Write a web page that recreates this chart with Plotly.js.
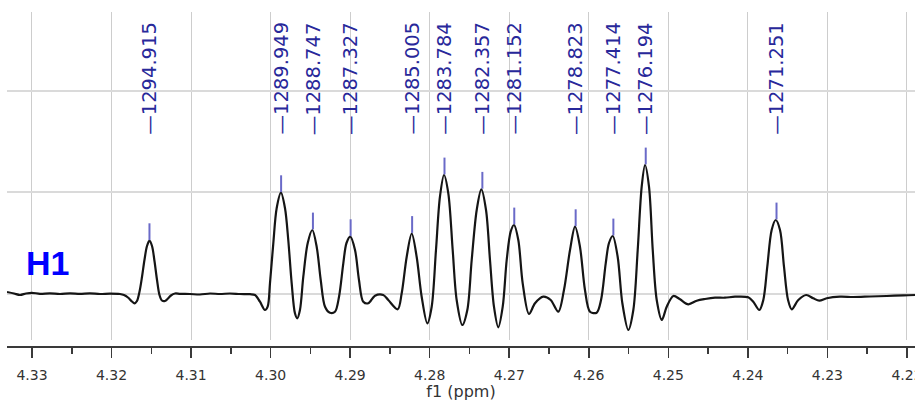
<!DOCTYPE html>
<html><head><meta charset="utf-8">
<script src="https://cdn.plot.ly/plotly-3.0.1.min.js"></script>
<style>html,body{margin:0;padding:0;background:#fff;overflow:hidden;} #chart{width:915px;height:401px;}</style>
</head><body><div id="chart"></div>
<script>
// Spectrum trace (chemical shift in ppm, intensity in arbitrary units)
const ppm = [4.33314,4.33226,4.33151,4.33075,4.33000,4.32899,4.32774,4.32648,4.32522,4.32397,4.32271,4.32145,4.32019,4.31894,
4.31843,4.31793,4.31743,4.31711,4.31680,4.31649,4.31617,4.31586,4.31554,4.31523,4.31491,4.31460,4.31428,4.31397,4.31366,4.31328,
4.31290,4.31253,4.31202,4.31139,4.31014,4.30888,4.30762,4.30637,4.30511,4.30385,4.30259,4.30196,4.30134,4.30071,4.30037,4.30008,
4.29966,4.29924,4.29870,4.29819,4.29778,4.29735,4.29694,4.29665,4.29631,4.29589,4.29534,4.29476,4.29421,4.29370,4.29316,4.29254,
4.29191,4.29140,4.29086,4.29046,4.28998,4.28939,4.28889,4.28835,4.28772,4.28688,4.28584,4.28521,4.28402,4.28352,4.28289,4.28226,
4.28164,4.28101,4.28030,4.27975,4.27921,4.27871,4.27820,4.27766,4.27711,4.27661,4.27590,4.27527,4.27472,4.27409,4.27351,4.27292,
4.27242,4.27192,4.27138,4.27082,4.27032,4.26982,4.26940,4.26886,4.26831,4.26752,4.26676,4.26572,4.26479,4.26383,4.26312,4.26236,
4.26173,4.26111,4.26048,4.25985,4.25901,4.25846,4.25787,4.25746,4.25699,4.25637,4.25578,4.25503,4.25440,4.25385,4.25335,4.25293,
4.25243,4.25196,4.25146,4.25082,4.25020,4.24937,4.24853,4.24749,4.24643,4.24539,4.24413,4.24288,4.24162,4.23995,4.23932,4.23856,
4.23806,4.23756,4.23701,4.23650,4.23596,4.23546,4.23495,4.23449,4.23366,4.23267,4.23178,4.23102,4.23009,4.22842,4.22675,4.22465,
4.22255,4.22045,4.21899];
const intensity = [1.5,0,-1.5,0,0.7,-0.3,0.2,-0.5,0.2,-0.3,0.2,-0.5,-0.1,-0.5,
-1.5,-4,-8,-9.8,-7.5,1.5,16.5,33.5,47.5,52.8,47.5,32.5,13.5,-1.5,-7,-7.5,
-5,-2,0,-0.3,-0.5,-1,0,-0.5,0,-0.5,-0.7,-1.5,-8.2,-16.5,-13.2,10.2,
50.2,85.2,100.8,85.2,53.5,10.2,-19.8,-24.8,-16.5,16.8,50.2,63.5,46.8,13.5,-13.2,-19.2,
-18.2,-3.2,30.2,50.5,56.8,43.5,13.5,-8.2,-9.8,-2.2,-1.5,-6.5,-15.8,0.2,36.8,60,
36.8,-3.2,-29.8,-13.2,43.5,96.8,118.5,100.2,43.5,-6.5,-31.5,-16.5,33.5,83.5,104.2,83.5,
33.5,-13.2,-33.8,-13.2,33.5,61.8,68.5,53.5,10.2,-20.5,-9.8,-3.2,-6.5,-18.2,3.5,43.5,
66.8,46.8,3.5,-18.2,-19.2,-6.5,30.2,50.5,57.5,36.8,-9.8,-36.5,-16.5,43.5,106.8,128.5,
106.8,43.5,-6.5,-26.5,-13.2,-2.5,-5.8,-10.8,-7.2,-5.5,-4.2,-4.2,-3.2,-3.8,-8.2,-16.5,
-6.5,26.8,63.5,73.5,63.5,26.8,-6.5,-15.8,-6.5,-1.5,-4.8,-7.2,-4.8,-3.2,-3.5,-3,
-2.5,-1.8,-1.5];

// Peak picking
const peakLabels = ['1294.915','1289.949','1288.747','1287.327','1285.005','1283.784','1282.357','1281.152','1278.823','1277.414','1276.194','1271.251'];
const peakPpm = [4.31523,4.29868,4.29468,4.28994,4.28221,4.27814,4.27338,4.26937,4.26165,4.25691,4.25284,4.23640];
const peakHeight = [52.8,100.8,63.5,56.8,60,118.5,104.2,68.5,66.8,57.5,128.5,73.5];

// Axis ticks
const tickVals = [4.33,4.32,4.31,4.30,4.29,4.28,4.27,4.26,4.25,4.24,4.23,4.22];
const tickText = ['4.33','4.32','4.31','4.30','4.29','4.28','4.27','4.26','4.25','4.24','4.23','4.22'];

const traces = [
  {x: ppm, y: intensity, type: 'scatter', mode: 'lines',
   line: {color: '#151515', width: 2.2, shape: 'spline', smoothing: 0.9}, hoverinfo: 'skip'},
  {x: peakPpm, y: peakHeight.map(h => h + 9), type: 'scatter', mode: 'markers',
   marker: {symbol: 'line-ns', size: 12, color: '#6a6ac8', line: {width: 2, color: '#6a6ac8'}}, hoverinfo: 'skip'}
];

const annotations = peakLabels.map((t, i) => ({
  x: peakPpm[i], xref: 'x', y: 0.6305, yref: 'paper',
  text: '\u2014' + t, textangle: -90, showarrow: false,
  xanchor: 'center', yanchor: 'bottom', borderpad: 0,
  font: {family: 'DejaVu Sans', size: 19.5, color: '#28289a'}
}));
annotations.push({
  x: 0.0198, xref: 'paper', y: 0.2508, yref: 'paper', text: '<b>H1</b>',
  showarrow: false, xanchor: 'left', yanchor: 'middle', borderpad: 0,
  font: {family: 'Liberation Sans, Arial', size: 34, color: '#0000ff'}
});

const layout = {
  width: 915, height: 401,
  margin: {l: 7, r: 0, t: 12, b: 54},
  paper_bgcolor: '#ffffff', plot_bgcolor: '#ffffff',
  showlegend: false,
  xaxis: {
    range: [4.33314, 4.21899], tickvals: tickVals, ticktext: tickText,
    showgrid: true, gridcolor: '#cdcdcd', gridwidth: 1, zeroline: false,
    showline: true, linecolor: '#3a3a3a', linewidth: 2,
    ticks: 'outside', ticklen: 10, tickwidth: 1.5, tickcolor: '#3a3a3a',
    minor: {ticks: 'outside', ticklen: 6, tickwidth: 1.5, tickcolor: '#3a3a3a', dtick: 0.005, tick0: 0, showgrid: false},
    tickfont: {family: 'DejaVu Sans', size: 14, color: '#333333'},
    ticklabelstandoff: 5, ticklabeloverflow: 'allow',
    title: {text: 'f1 (ppm)', font: {family: 'DejaVu Sans', size: 16, color: '#333333'}, standoff: 6},
    anchor: 'free', position: 0, fixedrange: true
  },
  yaxis: {
    range: [-46.5, 281.5], domain: [0.0209, 1],
    showgrid: true, gridcolor: '#dadada', gridwidth: 2, dtick: 101.5, tick0: 0,
    showticklabels: false, zeroline: false, showline: false, ticks: '', fixedrange: true
  },
  annotations: annotations
};

Plotly.newPlot('chart', traces, layout, {staticPlot: true, displayModeBar: false});
</script>
</body></html>
